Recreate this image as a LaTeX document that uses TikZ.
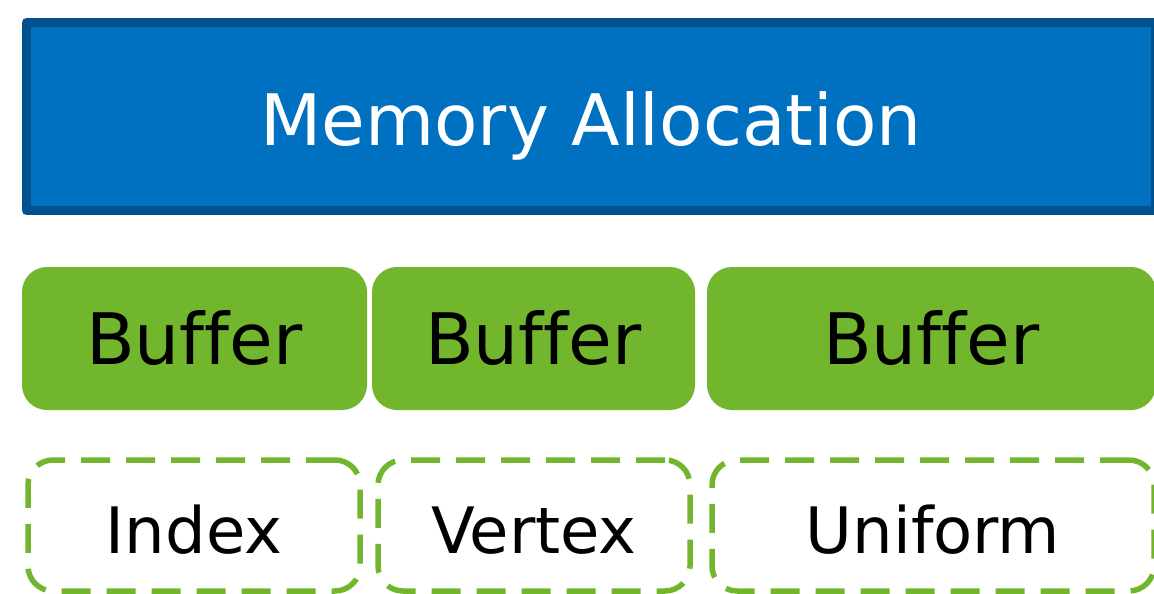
\documentclass[tikz,border=0pt]{standalone}
\usepackage{fontspec}
\setmainfont[Ligatures=NoCommon]{DejaVu Sans}
\begin{document}
\begin{tikzpicture}[x=1pt, y=-1pt, line join=round,
  membox/.style={draw=memedge, fill=memblue, line width=9pt, text=white,
    font=\fontsize{71}{80}\selectfont, inner sep=0pt,
    text height=58.8pt, text depth=0pt},
  bufbox/.style={fill=bufgreen, rounded corners=25pt, minimum height=143pt,
    font=\fontsize{71}{80}\selectfont, inner sep=0pt},
  usebox/.style={draw=bufgreen, line width=5.5pt, rounded corners=25pt,
    dash pattern=on 29pt off 16pt, minimum height=131pt,
    font=\fontsize{64}{72}\selectfont, inner sep=0pt,
    text height=55.6pt, text depth=0pt}]
  \definecolor{memblue}{RGB}{0,112,192}
  \definecolor{memedge}{RGB}{0,82,140}
  \definecolor{bufgreen}{RGB}{114,182,46}
  \useasboundingbox (0,0) rectangle (1154,594);
  \node[membox, minimum width=1129pt, minimum height=188pt] (mem) at (591,116.5) {Memory Allocation};
  \node[bufbox, minimum width=345pt] (bufidx) at (194.5,338.5) {Buffer};
  \node[bufbox, minimum width=323pt] (bufvtx) at (533.5,338.5) {Buffer};
  \node[bufbox, minimum width=449pt] (bufuni) at (931.5,338.5) {Buffer};
  \node[usebox, minimum width=332pt] (idx) at (194,525.5) {Index};
  \node[usebox, minimum width=312pt] (vtx) at (534,525.5) {Vertex};
  \node[usebox, minimum width=442pt] (uni) at (933,525.5) {Uniform};
\end{tikzpicture}
\end{document}
